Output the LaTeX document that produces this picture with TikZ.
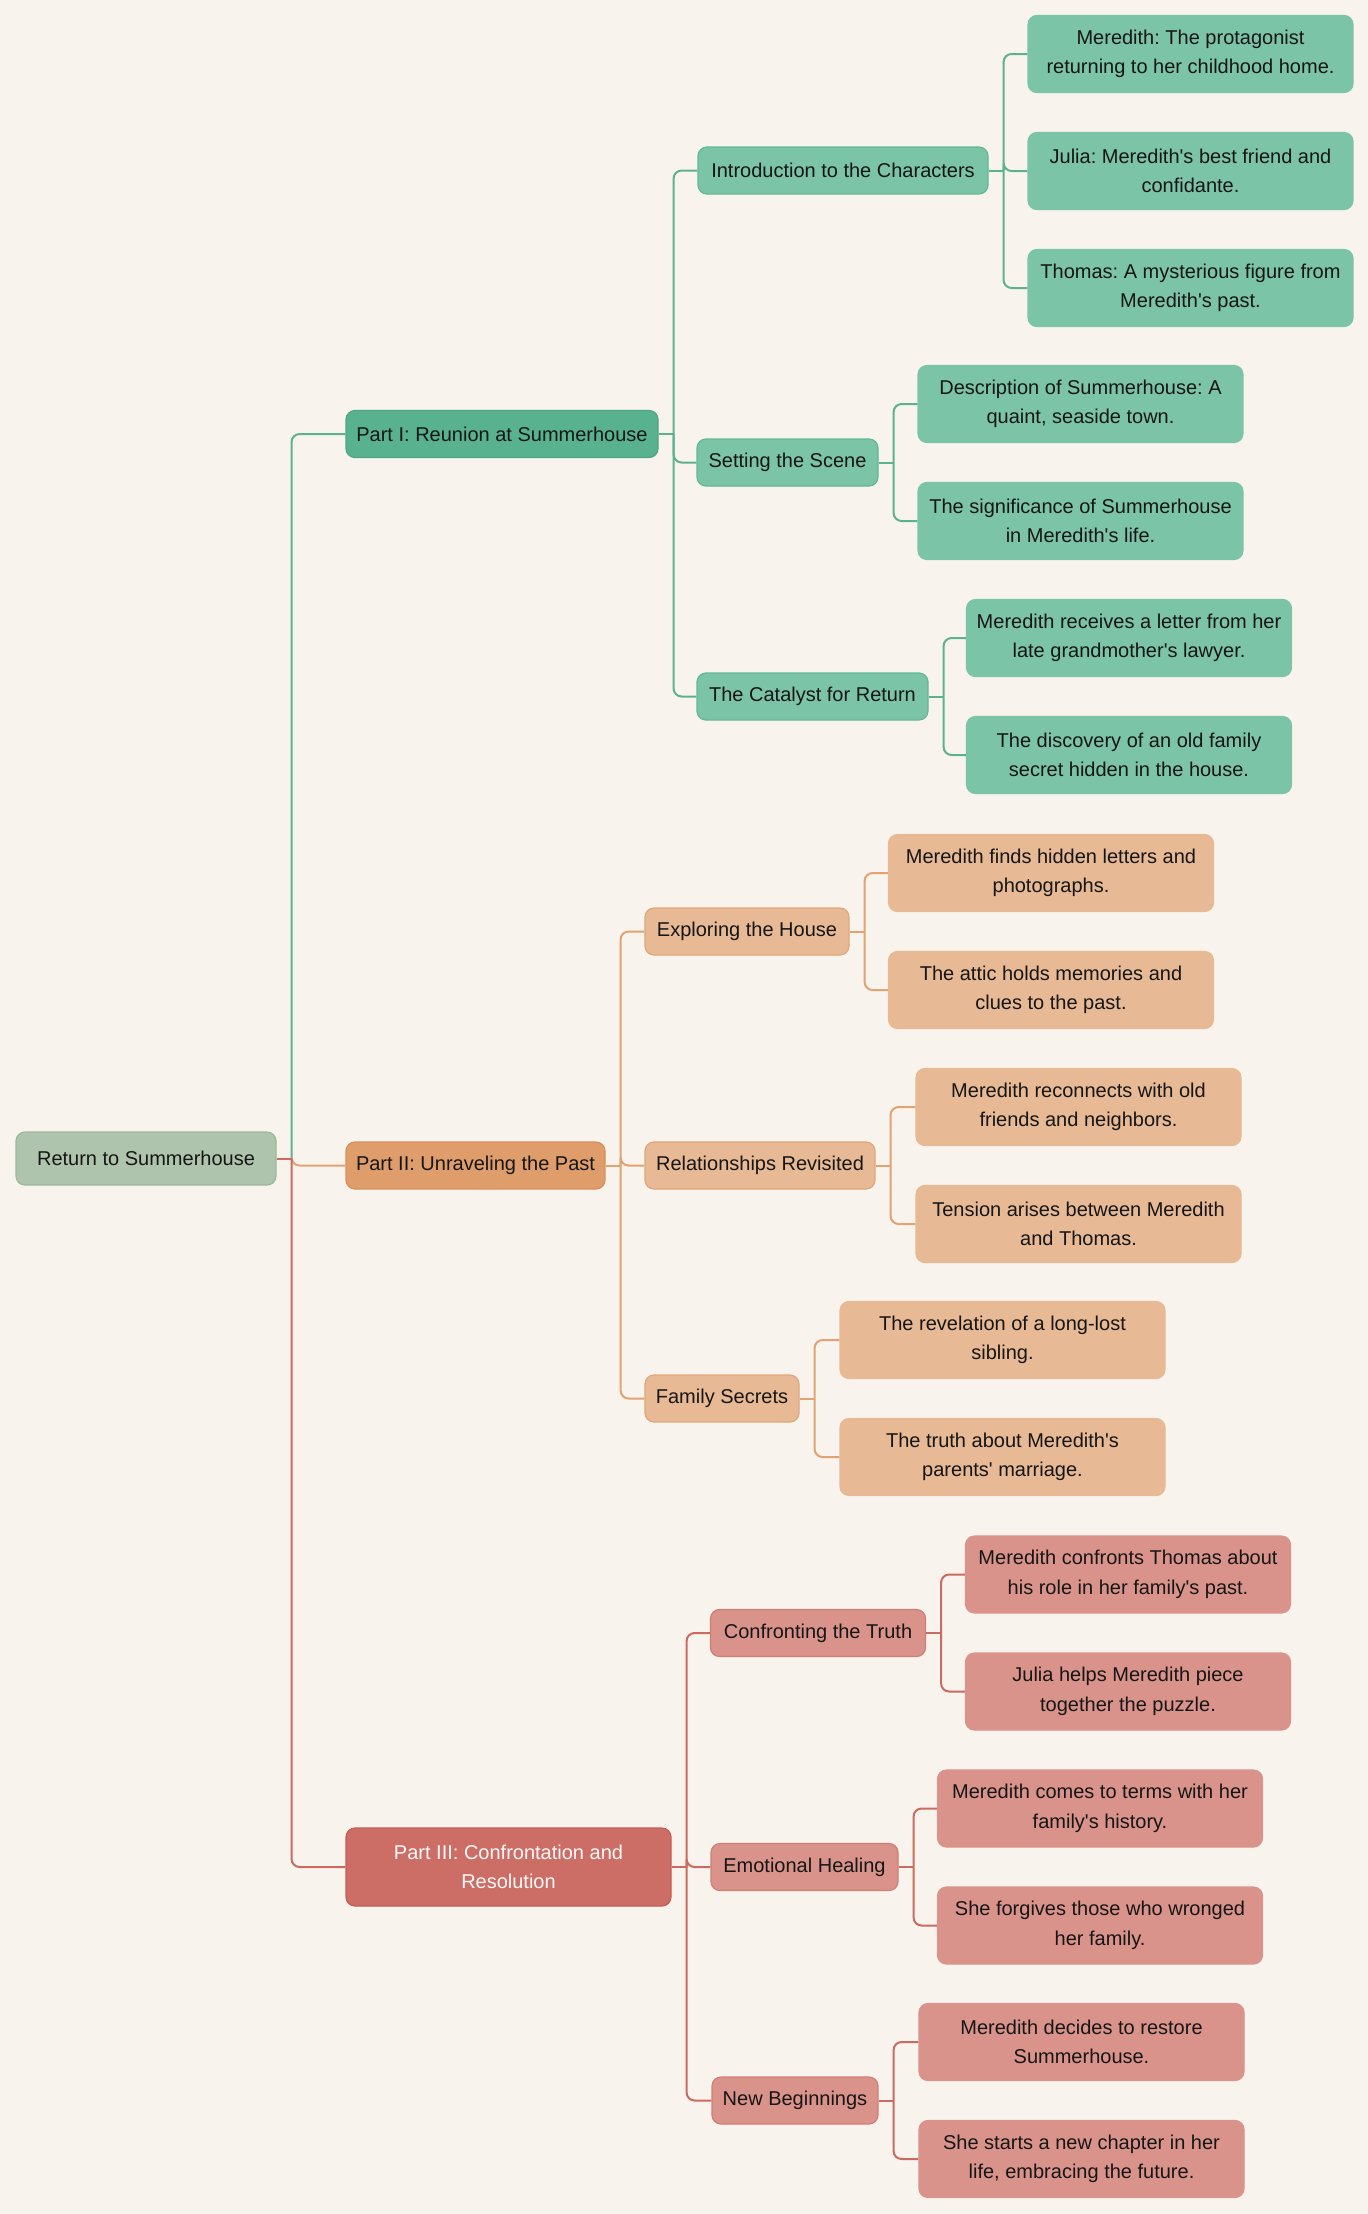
\documentclass[tikz,border=0pt]{standalone}
\usepackage{fontspec}
\setmainfont{Liberation Sans}
\newfontfamily\mmfont{Liberation Sans}
\usetikzlibrary{calc}
\definecolor{bgc}{HTML}{F8F4ED}
\definecolor{rootF}{HTML}{AFC4AC}
\definecolor{rootD}{HTML}{9CB899}
\definecolor{gA}{HTML}{58B290}
\definecolor{gAd}{HTML}{4DA583}
\definecolor{gB}{HTML}{7CC4A7}
\definecolor{gBd}{HTML}{62B894}
\definecolor{gL}{HTML}{5CB18F}
\definecolor{oA}{HTML}{DF9D6C}
\definecolor{oAd}{HTML}{D98F5B}
\definecolor{oB}{HTML}{E7B994}
\definecolor{oBd}{HTML}{E2A678}
\definecolor{oL}{HTML}{E2A272}
\definecolor{rA}{HTML}{CC6E65}
\definecolor{rAd}{HTML}{C25E55}
\definecolor{rB}{HTML}{D9938A}
\definecolor{rBd}{HTML}{D07E74}
\definecolor{rL}{HTML}{CB6A60}
\definecolor{txt}{HTML}{161616}
\tikzset{
  box/.style={rounded corners=9pt, inner sep=0pt, align=center,
    font=\mmfont\frenchspacing\fontsize{20}{29.5}\selectfont, text=txt, line width=1.2pt},
  rootbox/.style={box, fill=rootF, draw=rootD, minimum height=53},
  gtop/.style={box, fill=gA, draw=gAd, minimum height=47},
  gmid/.style={box, fill=gB, draw=gBd, minimum height=47},
  gleaf/.style={box, fill=gB, draw=gB, minimum width=325, minimum height=77},
  otop/.style={box, fill=oA, draw=oAd, minimum height=47},
  omid/.style={box, fill=oB, draw=oBd, minimum height=47},
  oleaf/.style={box, fill=oB, draw=oB, minimum width=325, minimum height=77},
  rtop/.style={box, fill=rA, draw=rAd, text=white!96!rA, minimum height=78},
  rmid/.style={box, fill=rB, draw=rBd, minimum height=47},
  rleaf/.style={box, fill=rB, draw=rB, minimum width=325, minimum height=77},
  gconn/.style={draw=gL, line width=2pt},
  oconn/.style={draw=oL, line width=2pt},
  rconn/.style={draw=rL, line width=2pt},
}
\newcommand\mmbranch[3]{%
  \coordinate (jn) at ($(#2.east)+(15,0)$);
  \draw[#1] (#2.east) -- (jn);
  \foreach \cc in {#3} {\draw[#1, rounded corners=8pt] (jn) |- (\cc.west);}
}
\begin{document}
\begin{tikzpicture}[x=1pt,y=-1pt]
\fill[bgc] (0,0) rectangle (1368,2214);
\useasboundingbox (0,0) rectangle (1368,2214);

% root and parts
\node[rootbox, minimum width=260] (root) at (146,1158.5) {Return to Summerhouse};
\node[gtop, minimum width=312] (p1) at (502,434) {Part I: Reunion at Summerhouse};
\node[otop, minimum width=259] (p2) at (475.5,1165.5) {Part II: Unraveling the Past};
\node[rtop, minimum width=325] (p3) at (508.5,1867) {Part III: Confrontation and\\Resolution};

% level 2
\node[gmid, minimum width=290] (s11) at (843,170.5) {Introduction to the Characters};
\node[gmid, minimum width=181] (s12) at (787.5,462.5) {Setting the Scene};
\node[gmid, minimum width=231] (s13) at (812.5,696.5) {The Catalyst for Return};
\node[omid, minimum width=204] (s21) at (747,931.5) {Exploring the House};
\node[omid, minimum width=230] (s22) at (760,1165.5) {Relationships Revisited};
\node[omid, minimum width=154] (s23) at (722,1398.5) {Family Secrets};
\node[rmid, minimum width=215] (s31) at (818,1633) {Confronting the Truth};
\node[rmid, minimum width=187] (s32) at (804.5,1867) {Emotional Healing};
\node[rmid, minimum width=166] (s33) at (795,2100.5) {New Beginnings};

% leaves
\node[gleaf] (l111) at (1190.5,54) {Meredith: The protagonist\\returning to her childhood home.};
\node[gleaf] (l112) at (1190.5,171) {Julia: Meredith's best friend and\\confidante.};
\node[gleaf] (l113) at (1190.5,288) {Thomas: A mysterious figure from\\Meredith's past.};
\node[gleaf] (l121) at (1080.5,404) {Description of Summerhouse: A\\quaint, seaside town.};
\node[gleaf] (l122) at (1080.5,521) {The significance of Summerhouse\\in Meredith's life.};
\node[gleaf] (l131) at (1129,638) {Meredith receives a letter from her\\late grandmother's lawyer.};
\node[gleaf] (l132) at (1129,755) {The discovery of an old family\\secret hidden in the house.};
\node[oleaf] (l211) at (1051,873) {Meredith finds hidden letters and\\photographs.};
\node[oleaf] (l212) at (1051,990) {The attic holds memories and\\clues to the past.};
\node[oleaf] (l221) at (1078.5,1107) {Meredith reconnects with old\\friends and neighbors.};
\node[oleaf] (l222) at (1078.5,1224) {Tension arises between Meredith\\and Thomas.};
\node[oleaf] (l231) at (1002.5,1340) {The revelation of a long-lost\\sibling.};
\node[oleaf] (l232) at (1002.5,1457) {The truth about Meredith's\\parents' marriage.};
\node[rleaf] (l311) at (1128,1574.5) {Meredith confronts Thomas about\\his role in her family's past.};
\node[rleaf] (l312) at (1128,1691.5) {Julia helps Meredith piece\\together the puzzle.};
\node[rleaf] (l321) at (1100,1808.5) {Meredith comes to terms with her\\family's history.};
\node[rleaf] (l322) at (1100,1925.5) {She forgives those who wronged\\her family.};
\node[rleaf] (l331) at (1081.5,2042) {Meredith decides to restore\\Summerhouse.};
\node[rleaf] (l332) at (1081.5,2159) {She starts a new chapter in her\\life, embracing the future.};

% connectors
\mmbranch{gconn}{s11}{l111,l112,l113}
\mmbranch{gconn}{s12}{l121,l122}
\mmbranch{gconn}{s13}{l131,l132}
\mmbranch{gconn}{p1}{s11,s12,s13}
\mmbranch{oconn}{s21}{l211,l212}
\mmbranch{oconn}{s22}{l221,l222}
\mmbranch{oconn}{s23}{l231,l232}
\mmbranch{oconn}{p2}{s21,s22,s23}
\mmbranch{rconn}{s31}{l311,l312}
\mmbranch{rconn}{s32}{l321,l322}
\mmbranch{rconn}{s33}{l331,l332}
\mmbranch{rconn}{p3}{s31,s32,s33}
\mmbranch{gconn}{root}{p1}
\mmbranch{oconn}{root}{p2}
\mmbranch{rconn}{root}{p3}
\end{tikzpicture}
\end{document}
